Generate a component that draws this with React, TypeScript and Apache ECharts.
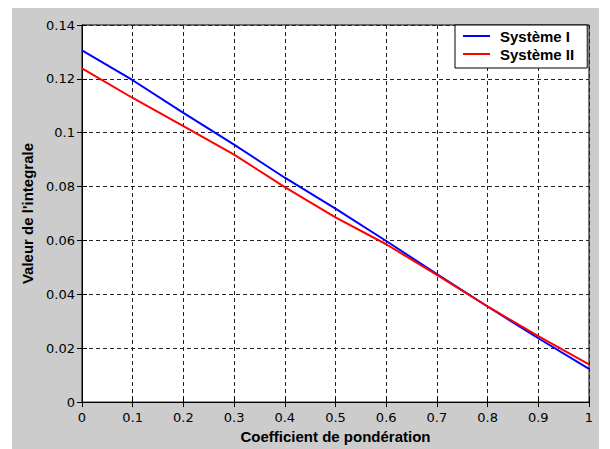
import React, { useEffect, useRef } from "react";
import * as echarts from "echarts";

const xValues = [0, 0.1, 0.2, 0.3, 0.4, 0.5, 0.6, 0.7, 0.8, 0.9, 1];
const systemeI = [0.1306, 0.1195, 0.1074, 0.0956, 0.0833, 0.0718, 0.0598, 0.0475, 0.0355, 0.0237, 0.0123];
const systemeII = [0.1239, 0.1129, 0.1025, 0.0919, 0.0798, 0.0686, 0.0586, 0.0472, 0.0355, 0.0245, 0.0140];
const seriesNames = ["Système I", "Système II"];
const xAxisName = "Coefficient de pondération";
const yAxisName = "Valeur de l'integrale";

const tickFont = { fontFamily: "DejaVu Sans", fontSize: 13, color: "#000" };
const boldFont = { fontFamily: "Liberation Sans", fontSize: 15, fontWeight: "bold" as const, color: "#000" };
const fmt = (v: number) => String(parseFloat(v.toFixed(2)));

export default function App() {
  const ref = useRef<HTMLDivElement>(null);
  useEffect(() => {
    document.body.style.margin = "0";
    const chart = echarts.init(ref.current!, undefined, { renderer: "svg" });
    const gridLine = { show: true, lineStyle: { color: "#222", type: [4, 3] as any, width: 1 } };
    chart.setOption({
      animation: false,
      backgroundColor: "#ffffff",
      graphic: [
        { type: "rect", z: -10, shape: { x: 12, y: 8, width: 587, height: 441 }, style: { fill: "#cccccc" }, silent: true },
      ],
      grid: {
        left: 82, top: 25, right: 21, bottom: 43,
        show: true, backgroundColor: "#ffffff", borderColor: "#000", borderWidth: 1,
      },
      legend: {
        left: 455, top: 25, orient: "vertical",
        backgroundColor: "#ffffff", borderColor: "#000", borderWidth: 1, borderRadius: 0,
        padding: [3, 13, 6, 8],
        itemWidth: 27, itemHeight: 2, itemGap: 2, icon: "rect",
        textStyle: { ...boldFont, lineHeight: 16, padding: [0, 0, 0, 5] },
        data: seriesNames,
      },
      xAxis: [
        {
          type: "value", min: 0, max: 1, interval: 0.1,
          axisLine: { show: true, lineStyle: { color: "#000" } },
          axisTick: { show: true, inside: true, length: 5, lineStyle: { color: "#000" } },
          axisLabel: { ...tickFont, margin: 9, formatter: fmt },
          splitLine: gridLine,
          name: xAxisName, nameLocation: "middle", nameGap: 23, nameTextStyle: boldFont,
        },
        {
          type: "value", min: 0, max: 1, interval: 0.1, position: "top",
          axisLine: { show: true, lineStyle: { color: "#000" } },
          axisTick: { show: true, inside: true, length: 5, lineStyle: { color: "#000" } },
          axisLabel: { show: false }, splitLine: { show: false },
        },
      ],
      yAxis: [
        {
          type: "value", min: 0, max: 0.14, interval: 0.02,
          axisLine: { show: true, lineStyle: { color: "#000" } },
          axisTick: { show: true, inside: true, length: 5, lineStyle: { color: "#000" } },
          axisLabel: { ...tickFont, margin: 7, formatter: fmt },
          splitLine: gridLine,
          name: yAxisName, nameLocation: "middle", nameGap: 44, nameTextStyle: boldFont,
        },
        {
          type: "value", min: 0, max: 0.14, interval: 0.02, position: "right",
          axisLine: { show: true, lineStyle: { color: "#000" } },
          axisTick: { show: true, inside: true, length: 5, lineStyle: { color: "#000" } },
          axisLabel: { show: false }, splitLine: { show: false },
        },
      ],
      series: [
        {
          name: seriesNames[0], type: "line", symbol: "none",
          data: xValues.map((x, i) => [x, systemeI[i]]),
          lineStyle: { color: "#0000ff", width: 2 }, itemStyle: { color: "#0000ff" },
        },
        {
          name: seriesNames[1], type: "line", symbol: "none",
          data: xValues.map((x, i) => [x, systemeII[i]]),
          lineStyle: { color: "#ff0000", width: 2 }, itemStyle: { color: "#ff0000" },
        },
      ],
    });
    return () => chart.dispose();
  }, []);
  return <div ref={ref} style={{ width: 610, height: 449, position: "absolute", left: 0, top: 0 }} />;
}
